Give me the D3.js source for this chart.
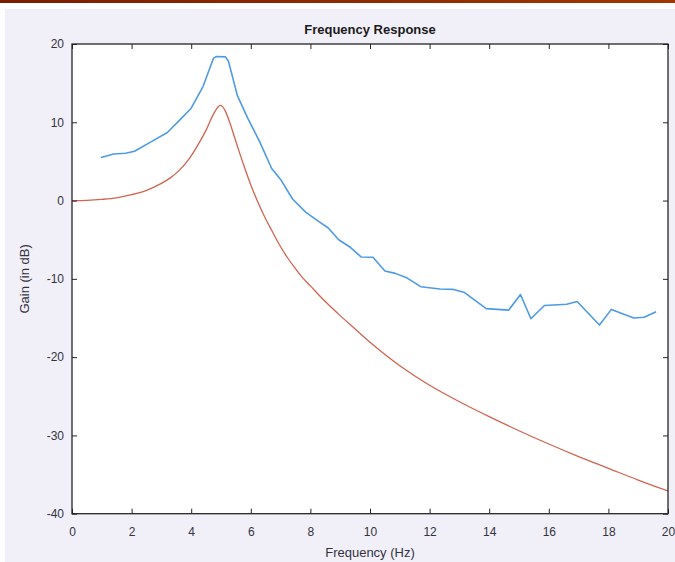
<!DOCTYPE html>
<html>
<head>
<meta charset="utf-8">
<script src="https://cdn.jsdelivr.net/npm/d3@7"></script>
<style>
  html, body { margin: 0; padding: 0; background: #ffffff; }
  svg { display: block; }
  text { font-family: "Liberation Sans", Arial, Helvetica, sans-serif; }
</style>
</head>
<body>
<div id="chart"></div>
<script>
// Model response (red) and measured response (blue), gain in dB vs frequency in Hz
const modelFreq = [0, 0.5, 1.0, 1.5, 2.0, 2.5, 3.0, 3.3, 3.62, 3.96, 4.3, 4.5, 4.65, 4.8, 4.9, 4.97,
  5.05, 5.13, 5.3, 5.47, 5.64, 5.81, 6.03, 6.25, 6.48, 6.7, 7.0, 7.25, 7.5, 7.75, 8.0, 8.5, 9.0, 9.5,
  10, 11, 12, 13, 14, 15, 16, 17, 18, 19, 20];
const modelGain = [0, 0.03, 0.15, 0.35, 0.75, 1.3, 2.2, 2.9, 3.95, 5.5, 7.6, 9.0, 10.3, 11.4, 11.95, 12.15,
  12.0, 11.55, 9.9, 7.9, 5.9, 4.0, 1.7, -0.3, -2.2, -3.8, -5.9, -7.4, -8.7, -9.9, -10.9, -12.9, -14.7, -16.4,
  -18.1, -21.1, -23.6, -25.7, -27.6, -29.4, -31.1, -32.7, -34.2, -35.7, -37.1];

const measFreq = [0.97, 1.4, 1.8, 2.1, 2.65, 3.2, 3.62, 4.0, 4.4, 4.75, 4.85, 5.15, 5.25, 5.55,
  5.9, 6.3, 6.7, 7.0, 7.4, 7.85, 8.25, 8.6, 8.95, 9.35, 9.7, 10.1, 10.5, 10.85, 11.25,
  11.7, 12.35, 12.8, 13.15, 13.9, 14.65, 15.05, 15.4, 15.85, 16.6, 16.95, 17.7, 18.1,
  18.85, 19.2, 19.6];
const measGain = [5.5, 5.95, 6.05, 6.3, 7.5, 8.7, 10.3, 11.8, 14.6, 18.2, 18.4, 18.35, 17.8, 13.4,
  10.5, 7.5, 4.1, 2.7, 0.2, -1.5, -2.6, -3.5, -5.0, -6.0, -7.2, -7.25, -9.0, -9.3, -9.9,
  -11.0, -11.3, -11.35, -11.7, -13.8, -14.0, -12.0, -15.1, -13.4, -13.25, -12.9, -15.9, -13.9,
  -15.0, -14.9, -14.2];

const xTicks = [0, 2, 4, 6, 8, 10, 12, 14, 16, 18, 20];
const yTicks = [-40, -30, -20, -10, 0, 10, 20];

const W = 675, H = 562;
const plot = { left: 72, top: 44, right: 668, bottom: 513.7 };
const axisColor = "#262626";
const textColor = "#333340";
const plainNumber = d => String(d);   // ASCII hyphen for negatives

const svg = d3.select("#chart").append("svg")
  .attr("width", W).attr("height", H);

// Window chrome: dark title strip and lavender figure background
const defs = svg.append("defs");
const grad = defs.append("linearGradient").attr("id", "strip");
grad.append("stop").attr("offset", "0%").attr("stop-color", "#7a1e00");
grad.append("stop").attr("offset", "100%").attr("stop-color", "#a13600");
svg.append("rect").attr("x", 0).attr("y", 0).attr("width", W).attr("height", H).attr("fill", "#ffffff");
svg.append("rect").attr("x", 0).attr("y", 0).attr("width", W).attr("height", 3).attr("fill", "url(#strip)");
svg.append("rect").attr("x", 5).attr("y", 9).attr("width", W - 5).attr("height", H - 9).attr("fill", "#f1f0f9");

// Axes area
svg.append("rect")
  .attr("x", plot.left).attr("y", plot.top)
  .attr("width", plot.right - plot.left).attr("height", plot.bottom - plot.top)
  .attr("fill", "#ffffff");

const x = d3.scaleLinear().domain([0, 20]).range([plot.left, plot.right]);
const y = d3.scaleLinear().domain([-40, 20]).range([plot.bottom, plot.top]);

const clip = defs.append("clipPath").attr("id", "plotClip");
clip.append("rect")
  .attr("x", plot.left).attr("y", plot.top)
  .attr("width", plot.right - plot.left).attr("height", plot.bottom - plot.top);

const lines = svg.append("g").attr("clip-path", "url(#plotClip)");

const modelLine = d3.line()
  .x((d, i) => x(modelFreq[i]))
  .y((d, i) => y(modelGain[i]))
  .curve(d3.curveCatmullRom.alpha(0.5));
const measLine = d3.line()
  .x((d, i) => x(measFreq[i]))
  .y((d, i) => y(measGain[i]));

lines.append("path")
  .attr("d", measLine(measFreq))
  .attr("fill", "none")
  .attr("stroke", "#4d9be6")
  .attr("stroke-width", 1.6)
  .attr("stroke-linejoin", "round");

lines.append("path")
  .attr("d", modelLine(modelFreq))
  .attr("fill", "none")
  .attr("stroke", "#d2644f")
  .attr("stroke-width", 1.3);

// Ticks point inward on all four sides
function styleAxis(g) {
  g.select(".domain").remove();
  g.selectAll(".tick line").attr("stroke", axisColor).attr("stroke-width", 1);
  g.selectAll(".tick text")
    .attr("fill", textColor)
    .style("font-size", "12px");
}

svg.append("g")
  .attr("transform", `translate(0,${plot.bottom})`)
  .call(d3.axisBottom(x).tickValues(xTicks).tickSizeInner(-5).tickSizeOuter(0).tickPadding(13.5).tickFormat(plainNumber))
  .call(styleAxis);

svg.append("g")
  .attr("transform", `translate(0,${plot.top})`)
  .call(d3.axisTop(x).tickValues(xTicks).tickSizeInner(-5).tickSizeOuter(0).tickFormat(""))
  .call(styleAxis);

svg.append("g")
  .attr("transform", `translate(${plot.left},0)`)
  .call(d3.axisLeft(y).tickValues(yTicks).tickSizeInner(-5).tickSizeOuter(0).tickPadding(8).tickFormat(plainNumber))
  .call(styleAxis);

svg.append("g")
  .attr("transform", `translate(${plot.right},0)`)
  .call(d3.axisRight(y).tickValues(yTicks).tickSizeInner(-5).tickSizeOuter(0).tickFormat(""))
  .call(styleAxis);

// Box around the axes
svg.append("rect")
  .attr("x", plot.left).attr("y", plot.top)
  .attr("width", plot.right - plot.left).attr("height", plot.bottom - plot.top)
  .attr("fill", "none")
  .attr("stroke", axisColor)
  .attr("stroke-width", 1.3);

// Title and axis labels
const cx = (plot.left + plot.right) / 2;
svg.append("text")
  .attr("x", cx).attr("y", 34)
  .attr("text-anchor", "middle")
  .attr("fill", "#1a1a1a")
  .style("font-size", "13px").style("font-weight", "bold")
  .text("Frequency Response");

svg.append("text")
  .attr("x", cx).attr("y", 557)
  .attr("text-anchor", "middle")
  .attr("fill", textColor)
  .style("font-size", "13px")
  .text("Frequency (Hz)");

svg.append("text")
  .attr("transform", `translate(29,${(plot.top + plot.bottom) / 2}) rotate(-90)`)
  .attr("text-anchor", "middle")
  .attr("fill", textColor)
  .style("font-size", "13px")
  .text("Gain (in dB)");
</script>
</body>
</html>
